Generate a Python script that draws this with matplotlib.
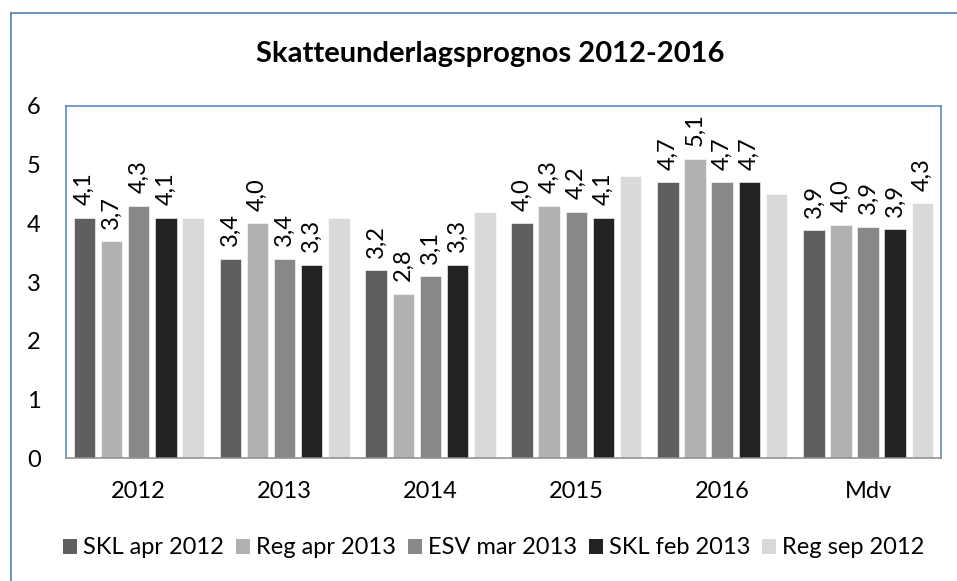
import numpy as np
import matplotlib
matplotlib.use('Agg')
import matplotlib.pyplot as plt
from matplotlib.patches import Patch
from matplotlib.lines import Line2D

plt.rcParams['font.family'] = ['Lato', 'DejaVu Sans']

categories = ['2012', '2013', '2014', '2015', '2016', 'Mdv']
series_names = ['SKL apr 2012', 'Reg apr 2013', 'ESV mar 2013', 'SKL feb 2013', 'Reg sep 2012']
skl_apr_2012 = [4.1, 3.4, 3.2, 4.0, 4.7, 3.88]
reg_apr_2013 = [3.7, 4.0, 2.8, 4.3, 5.1, 3.98]
esv_mar_2013 = [4.3, 3.4, 3.1, 4.2, 4.7, 3.94]
skl_feb_2013 = [4.1, 3.3, 3.3, 4.1, 4.7, 3.90]
reg_sep_2012 = [4.1, 4.1, 4.2, 4.8, 4.5, 4.34]
# which bars get a value label (Reg sep 2012 only on Mdv)
labelled = [[True] * 6, [True] * 6, [True] * 6, [True] * 6,
            [False, False, False, False, False, True]]

series = [skl_apr_2012, reg_apr_2013, esv_mar_2013, skl_feb_2013, reg_sep_2012]
colors = ['#5f5f5f', '#b1b1b1', '#888888', '#222222', '#d9d9d9']
blue = '#4f81bd'

fig = plt.figure(figsize=(9.57, 5.81), dpi=100)
ax = fig.add_axes([0.0687, 0.2112, 0.9146, 0.6064])

x = np.arange(len(categories))
step = 0.186
width = 0.148
for i, (vals, col) in enumerate(zip(series, colors)):
    pos = x + (i - 2) * step
    ax.bar(pos, vals, width=width, color=col, edgecolor='white', linewidth=0.4, zorder=2)
    for p, v, show in zip(pos, vals, labelled[i]):
        if show:
            ax.annotate(f'{v:.1f}'.replace('.', ','), (p, v), xytext=(0, 9),
                        textcoords='offset points', rotation=90,
                        ha='center', va='bottom', fontsize=17)

ax.set_xlim(-0.5, 5.5)
ax.set_ylim(0, 6)
ax.set_yticks(range(7))
ax.set_xticks(x)
ax.set_xticklabels(categories)
ax.tick_params(axis='both', length=0, labelsize=17)
ax.tick_params(axis='y', pad=18)
ax.tick_params(axis='x', pad=16)
for s in ['left', 'top', 'right']:
    ax.spines[s].set_color(blue)
    ax.spines[s].set_linewidth(1.1)
ax.spines['bottom'].set_color('#8c8c8c')
ax.spines['bottom'].set_linewidth(1.1)

fig.text(0.512, 0.907, 'Skatteunderlagsprognos 2012-2016', ha='center', va='center',
         fontsize=21, fontweight='bold')

handles = [Patch(facecolor=c, edgecolor='none') for c in colors]
fig.legend(handles, series_names, loc='center', bbox_to_anchor=(0.516, 0.057),
           ncol=5, frameon=False, fontsize=17, handlelength=0.6, handleheight=0.6,
           handletextpad=0.25, columnspacing=0.5)

# outer chart frame (cut off at right and bottom)
fig.add_artist(Line2D([10.5 / 957, 10.5 / 957], [0, 1 - 13 / 581], color=blue, lw=1.2,
                      transform=fig.transFigure))
fig.add_artist(Line2D([10.5 / 957, 1], [1 - 13 / 581, 1 - 13 / 581], color=blue, lw=1.2,
                      transform=fig.transFigure))

fig.savefig('out.png', dpi=100)
